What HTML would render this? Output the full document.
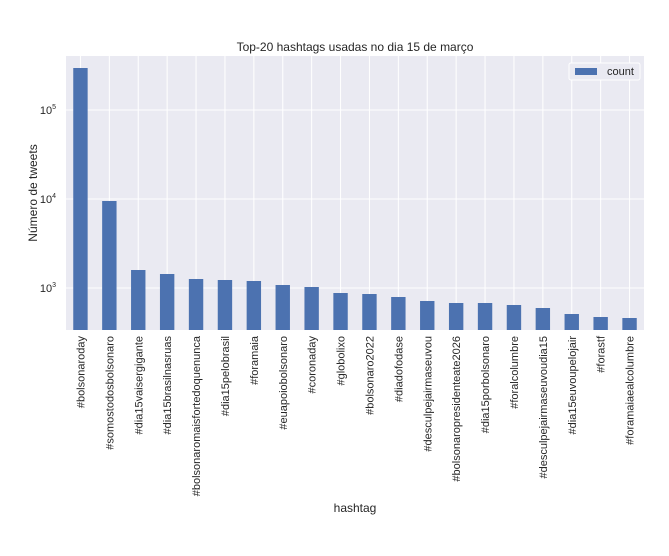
<!DOCTYPE html><html><head><style>body{margin:0;background:#fff}</style></head><body>
<svg width="669" height="551" xmlns="http://www.w3.org/2000/svg" font-family="Liberation Sans, DejaVu Sans, sans-serif">
<rect x="66" y="56" width="578" height="274" fill="#eaeaf2"/>
<g stroke="#fff" stroke-width="1">
<line x1="66" x2="644" y1="110" y2="110"/><line x1="66" x2="644" y1="199" y2="199"/><line x1="66" x2="644" y1="288" y2="288"/>
<line x1="80.45" x2="80.45" y1="56" y2="330"/><line x1="109.35" x2="109.35" y1="56" y2="330"/><line x1="138.25" x2="138.25" y1="56" y2="330"/><line x1="167.15" x2="167.15" y1="56" y2="330"/><line x1="196.05" x2="196.05" y1="56" y2="330"/><line x1="224.95" x2="224.95" y1="56" y2="330"/><line x1="253.85" x2="253.85" y1="56" y2="330"/><line x1="282.75" x2="282.75" y1="56" y2="330"/><line x1="311.65" x2="311.65" y1="56" y2="330"/><line x1="340.55" x2="340.55" y1="56" y2="330"/><line x1="369.45" x2="369.45" y1="56" y2="330"/><line x1="398.35" x2="398.35" y1="56" y2="330"/><line x1="427.25" x2="427.25" y1="56" y2="330"/><line x1="456.15" x2="456.15" y1="56" y2="330"/><line x1="485.05" x2="485.05" y1="56" y2="330"/><line x1="513.95" x2="513.95" y1="56" y2="330"/><line x1="542.85" x2="542.85" y1="56" y2="330"/><line x1="571.75" x2="571.75" y1="56" y2="330"/><line x1="600.65" x2="600.65" y1="56" y2="330"/><line x1="629.55" x2="629.55" y1="56" y2="330"/>
</g>
<g fill="#4c72b0">
<rect x="73.25" y="68" width="14.4" height="262"/>
<rect x="102.15" y="201" width="14.4" height="129"/>
<rect x="131.05" y="270" width="14.4" height="60"/>
<rect x="159.95" y="274" width="14.4" height="56"/>
<rect x="188.85" y="279" width="14.4" height="51"/>
<rect x="217.75" y="280" width="14.4" height="50"/>
<rect x="246.65" y="281" width="14.4" height="49"/>
<rect x="275.55" y="285" width="14.4" height="45"/>
<rect x="304.45" y="287" width="14.4" height="43"/>
<rect x="333.35" y="293" width="14.4" height="37"/>
<rect x="362.25" y="294" width="14.4" height="36"/>
<rect x="391.15" y="297" width="14.4" height="33"/>
<rect x="420.05" y="301" width="14.4" height="29"/>
<rect x="448.95" y="303" width="14.4" height="27"/>
<rect x="477.85" y="303" width="14.4" height="27"/>
<rect x="506.75" y="305" width="14.4" height="25"/>
<rect x="535.65" y="308" width="14.4" height="22"/>
<rect x="564.55" y="314" width="14.4" height="16"/>
<rect x="593.45" y="317" width="14.4" height="13"/>
<rect x="622.35" y="318" width="14.4" height="12"/>
</g>
<g font-size="11" fill="#262626" text-anchor="end">
<text transform="translate(84.45,336) rotate(-90)">#bolsonaroday</text>
<text transform="translate(113.35,336) rotate(-90)">#somostodosbolsonaro</text>
<text transform="translate(142.25,336) rotate(-90)">#dia15vaisergigante</text>
<text transform="translate(171.15,336) rotate(-90)">#dia15brasilnasruas</text>
<text transform="translate(200.05,336) rotate(-90)">#bolsonaromaisfortedoquenunca</text>
<text transform="translate(228.95,336) rotate(-90)">#dia15pelobrasil</text>
<text transform="translate(257.85,336) rotate(-90)">#foramaia</text>
<text transform="translate(286.75,336) rotate(-90)">#euapoiobolsonaro</text>
<text transform="translate(315.65,336) rotate(-90)">#coronaday</text>
<text transform="translate(344.55,336) rotate(-90)">#globolixo</text>
<text transform="translate(373.45,336) rotate(-90)">#bolsonaro2022</text>
<text transform="translate(402.35,336) rotate(-90)">#diadofodase</text>
<text transform="translate(431.25,336) rotate(-90)">#desculpejairmaseuvou</text>
<text transform="translate(460.15,336) rotate(-90)">#bolsonaropresidenteate2026</text>
<text transform="translate(489.05,336) rotate(-90)">#dia15porbolsonaro</text>
<text transform="translate(517.95,336) rotate(-90)">#foralcolumbre</text>
<text transform="translate(546.85,336) rotate(-90)">#desculpejairmaseuvoudia15</text>
<text transform="translate(575.75,336) rotate(-90)">#dia15euvoupelojair</text>
<text transform="translate(604.65,336) rotate(-90)">#forastf</text>
<text transform="translate(633.55,336) rotate(-90)">#foramaiaealcolumbre</text>
</g>
<text x="355" y="51" font-size="12" text-anchor="middle" fill="#262626">Top-20 hashtags usadas no dia 15 de março</text>
<text x="355" y="512" font-size="12" text-anchor="middle" fill="#262626">hashtag</text>
<text transform="translate(37,193) rotate(-90)" font-size="12" text-anchor="middle" fill="#262626">Número de tweets</text>
<g font-size="11" fill="#262626" text-anchor="end">
<text x="56" y="114">10<tspan font-size="7" dy="-5">5</tspan></text>
<text x="56" y="203">10<tspan font-size="7" dy="-5">4</tspan></text>
<text x="56" y="292">10<tspan font-size="7" dy="-5">3</tspan></text>
</g>
<rect x="569" y="63" width="71" height="17" fill="#eaeaf2" stroke="#fff" rx="2"/>
<rect x="575" y="68" width="22" height="7" fill="#4c72b0"/>
<text x="607" y="75" font-size="11" fill="#262626">count</text>
</svg></body></html>
